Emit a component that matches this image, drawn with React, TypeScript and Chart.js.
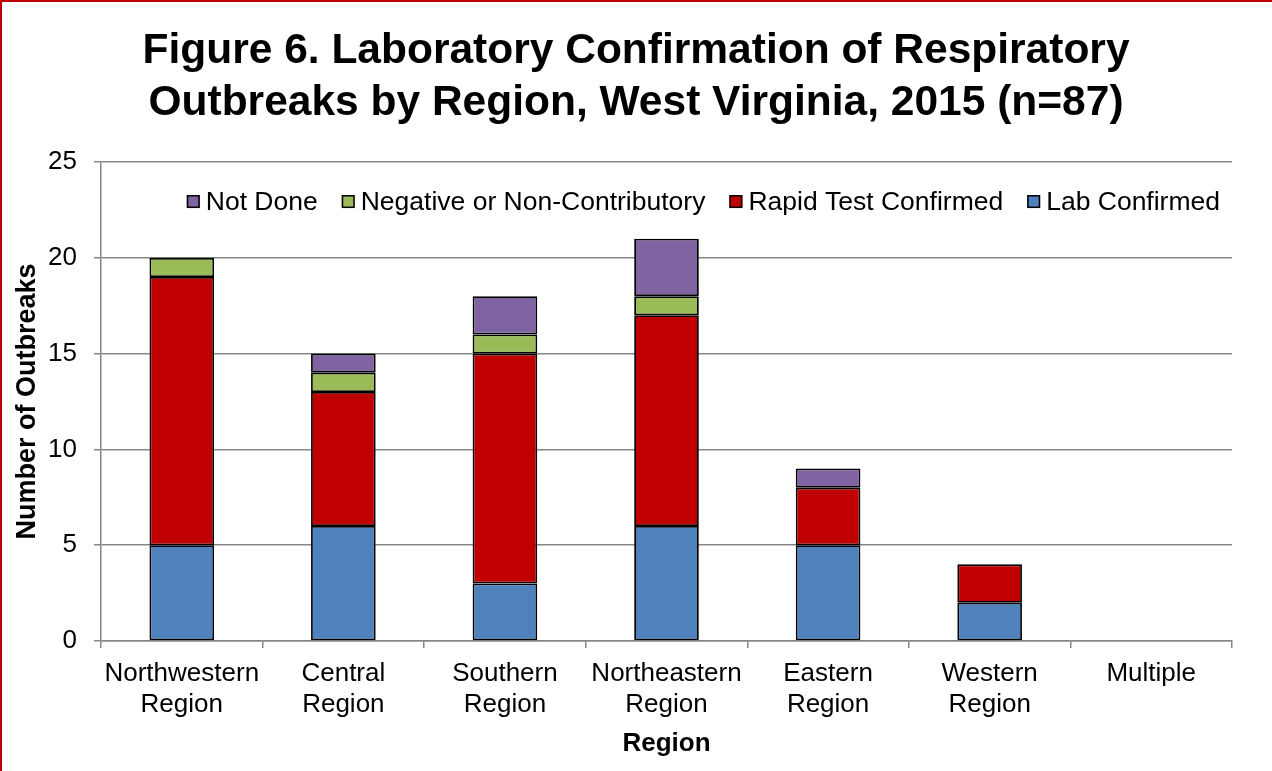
import React, { useEffect, useRef } from "react";
import { Chart, registerables } from "chart.js";

Chart.register(...registerables);

const categories: (string | string[])[] = [
  ["Northwestern", "Region"],
  ["Central", "Region"],
  ["Southern", "Region"],
  ["Northeastern", "Region"],
  ["Eastern", "Region"],
  ["Western", "Region"],
  "Multiple",
];
const labConfirmed = [5, 6, 3, 6, 5, 2, 0];
const rapidTestConfirmed = [14, 7, 12, 11, 3, 2, 0];
const negativeOrNonContributory = [1, 1, 1, 1, 0, 0, 0];
const notDone = [0, 1, 2, 3, 1, 0, 0];
const yTickValues = [0, 5, 10, 15, 20, 25];
const seriesLabels = ["Lab Confirmed", "Rapid Test Confirmed", "Negative or Non-Contributory", "Not Done"];
const seriesColors = ["#4F81BD", "#C00000", "#9BBB59", "#8064A2"];
const titleLines = [
  "Figure 6. Laboratory Confirmation of Respiratory",
  "Outbreaks by Region, West Virginia, 2015 (n=87)",
];

const FONT = "'Liberation Sans', Arial, Helvetica, sans-serif";
const GRID = "#878787";

const insideLegend = {
  id: "insideLegend",
  afterDraw(chart: any) {
    const ctx = chart.ctx as CanvasRenderingContext2D;
    const area = chart.chartArea;
    ctx.save();
    ctx.font = `26.5px ${FONT}`;
    ctx.textBaseline = "middle";
    ctx.textAlign = "left";
    const items = chart.data.datasets
      .map((d: any) => ({ label: d.label as string, color: d.backgroundColor as string }))
      .reverse();
    const box = 13;
    const gapText = 6;
    const gapItem = 24;
    const widths = items.map((it: any) => box + gapText + ctx.measureText(it.label).width);
    const total = widths.reduce((a: number, b: number) => a + b, 0) + gapItem * (items.length - 1);
    let x = area.right - 12 - total;
    const y = area.top + 39.5;
    items.forEach((it: any, i: number) => {
      ctx.fillStyle = it.color;
      ctx.fillRect(x, y - box / 2, box, box);
      ctx.strokeStyle = "#000";
      ctx.lineWidth = 1.5;
      ctx.strokeRect(x + 0.75, y - box / 2 + 0.75, box - 1.5, box - 1.5);
      ctx.fillStyle = "#000";
      ctx.fillText(it.label, x + box + gapText, y + 1);
      x += widths[i] + gapItem;
    });
    ctx.restore();
  },
};

export default function App() {
  const ref = useRef<HTMLCanvasElement | null>(null);

  useEffect(() => {
    if (!ref.current) return;
    const seriesData = [labConfirmed, rapidTestConfirmed, negativeOrNonContributory, notDone];
    const chart = new Chart(ref.current, {
      type: "bar",
      data: {
        labels: categories,
        datasets: seriesData.map((d, i) => ({
          label: seriesLabels[i],
          data: d,
          backgroundColor: seriesColors[i],
          borderColor: "#000000",
          borderWidth: 1.8,
          borderSkipped: false,
          barPercentage: 0.4,
          categoryPercentage: 1,
        })),
      },
      options: {
        responsive: false,
        animation: false,
        devicePixelRatio: 1,
        layout: { padding: { left: 20, right: 20, top: 0, bottom: 0 } },
        plugins: {
          legend: { display: false },
          tooltip: { enabled: false },
          title: {
            display: true,
            text: titleLines,
            color: "#000",
            font: { family: FONT, size: 42.5, weight: "bold", lineHeight: 1.224 },
            padding: { top: 25, bottom: 33 },
          },
        },
        scales: {
          x: {
            stacked: true,
            offset: true,
            grid: {
              offset: true,
              drawOnChartArea: false,
              drawTicks: true,
              tickLength: 7,
              color: GRID,
              lineWidth: 1.5,
            },
            border: { color: GRID, width: 1.5 },
            ticks: {
              color: "#000",
              font: { family: FONT, size: 26, lineHeight: 1.2 },
              padding: 10,
              maxRotation: 0,
              autoSkip: false,
            },
            title: {
              display: true,
              text: "Region",
              color: "#000",
              font: { family: FONT, size: 26, weight: "bold", lineHeight: 1.2 },
              padding: { top: 12, bottom: 12 },
            },
            afterFit(scale: any) {
              scale.height = 130;
            },
          },
          y: {
            stacked: true,
            min: 0,
            max: 25,
            afterBuildTicks(scale: any) {
              scale.ticks = yTickValues.map((v) => ({ value: v }));
            },
            grid: {
              color: GRID,
              lineWidth: 1.5,
              tickLength: 7,
            },
            border: { color: GRID, width: 1.5 },
            ticks: {
              color: "#000",
              font: { family: FONT, size: 26 },
              padding: 17,
            },
            title: {
              display: true,
              text: "Number of Outbreaks",
              color: "#000",
              font: { family: FONT, size: 27, weight: "bold", lineHeight: 1.2 },
              padding: { top: -9, bottom: 0 },
            },
            afterFit(scale: any) {
              scale.width = 81;
            },
          },
          spacer: {
            type: "linear",
            position: "right",
            display: true,
            min: 0,
            max: 25,
            grid: { display: false, drawTicks: false },
            border: { display: false },
            ticks: { display: false },
            afterFit(scale: any) {
              scale.width = 20;
            },
          },
        },
      },
      plugins: [insideLegend],
    });
    return () => chart.destroy();
  }, []);

  return (
    <div
      style={{
        position: "fixed",
        left: 0,
        top: 0,
        width: 1272,
        height: 771,
        background: "#fff",
        overflow: "hidden",
      }}
    >
      <canvas ref={ref} width={1272} height={771} style={{ position: "absolute", left: 0, top: 0, width: 1272, height: 771 }} />
      <div
        style={{
          position: "absolute",
          left: 0,
          top: 0,
          width: 1272,
          height: 771,
          boxSizing: "border-box",
          borderLeft: "2px solid #C00000",
          borderTop: "2px solid #C00000",
          pointerEvents: "none",
        }}
      />
    </div>
  );
}
